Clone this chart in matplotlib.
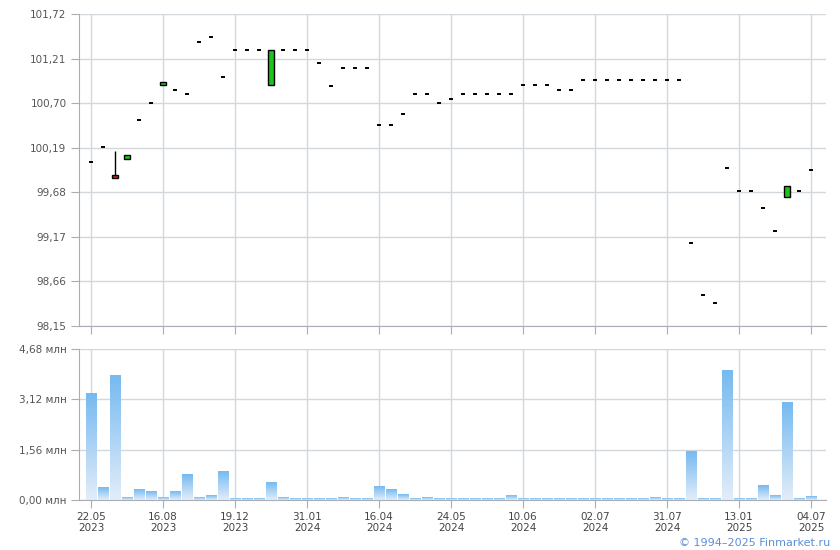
import numpy as np
import matplotlib
matplotlib.use('Agg')
import matplotlib.pyplot as plt
from matplotlib.patches import Rectangle
from matplotlib.colors import LinearSegmentedColormap

# подписи оси X (каждая 6-я свеча)
tick_idx = [0, 6, 12, 18, 24, 30, 36, 42, 48, 54, 60]
tick_labels = ['22.05\n2023', '16.08\n2023', '19.12\n2023', '31.01\n2024', '16.04\n2024',
               '24.05\n2024', '10.06\n2024', '02.07\n2024', '31.07\n2024', '13.01\n2025',
               '04.07\n2025']

close_ = [100.03, 100.20, 99.845, 100.11, 100.51, 100.70, 100.945, 100.85, 100.80, 101.40,
          101.46, 101.00, 101.31, 101.31, 101.31, 101.31, 101.31, 101.31, 101.31, 101.155,
          100.90, 101.105, 101.105, 101.105, 100.45, 100.45, 100.575, 100.805, 100.805, 100.70,
          100.745, 100.81, 100.81, 100.81, 100.81, 100.81, 100.91, 100.91, 100.91, 100.85,
          100.85, 100.96, 100.96, 100.96, 100.96, 100.96, 100.96, 100.96, 100.96, 100.96,
          99.10, 98.51, 98.41, 99.96, 99.70, 99.70, 99.50, 99.235, 99.75, 99.70,
          99.94]
# свечи с телом: индекс -> (open, high, low)
bodies = {2: (99.865, 100.15, 99.84),
          3: (100.06, 100.11, 100.06),
          6: (100.905, 100.945, 100.905),
          15: (100.905, 101.31, 100.905),
          58: (99.63, 99.75, 99.63)}

volume = [3.30, 0.38, 3.86, 0.07, 0.32, 0.26, 0.07, 0.26, 0.78, 0.07,
          0.13, 0.87, 0.04, 0.04, 0.04, 0.53, 0.07, 0.04, 0.04, 0.04,
          0.04, 0.07, 0.04, 0.04, 0.41, 0.31, 0.16, 0.04, 0.07, 0.04,
          0.04, 0.04, 0.04, 0.04, 0.04, 0.15, 0.04, 0.04, 0.04, 0.04,
          0.04, 0.04, 0.04, 0.04, 0.04, 0.04, 0.04, 0.09, 0.04, 0.04,
          1.51, 0.04, 0.04, 4.01, 0.04, 0.04, 0.46, 0.15, 3.02, 0.06,
          0.12]

price_ticks = [98.15, 98.66, 99.17, 99.68, 100.19, 100.70, 101.21, 101.72]
vol_ticks = [0.0, 1.56, 3.12, 4.68]

GRID = '#d3d8dc'
SPINE = '#a9adb5'


def oformit(ax):
    ax.set_xlim(-1, 61.25)
    ax.set_xticks(tick_idx)
    ax.grid(True, color=GRID, linewidth=1)
    ax.set_axisbelow(True)
    for s in ['top', 'right']:
        ax.spines[s].set_visible(False)
    for s in ['left', 'bottom']:
        ax.spines[s].set_color(SPINE)
    ax.tick_params(length=6, color=SPINE, labelsize=7.5, labelcolor='#555555', pad=3)


fig = plt.figure(figsize=(8.4, 5.5), dpi=100)
ax1 = fig.add_axes([79 / 840, 1 - 326 / 550, 747 / 840, 312 / 550])
ax2 = fig.add_axes([79 / 840, 1 - 500 / 550, 747 / 840, 151 / 550])

# цены
oformit(ax1)
ax1.set_ylim(98.15, 101.72)
ax1.set_yticks(price_ticks)
ax1.set_yticklabels([f'{v:.2f}'.replace('.', ',') for v in price_ticks])
ax1.set_xticklabels([])
for i, c in enumerate(close_):
    if i in bodies:
        o, h, l = bodies[i]
        ax1.vlines(i, l, h, color='black', linewidth=1, zorder=3)
        col = '#1cc41c' if c >= o else '#d42020'
        ax1.add_patch(Rectangle((i - 0.22, min(o, c)), 0.44, max(abs(c - o), 0.03),
                                facecolor=col, edgecolor='black', linewidth=1, zorder=4))
    else:
        ax1.hlines(c, i - 0.2, i + 0.2, color='black', linewidth=1.4, zorder=3)

# объемы
oformit(ax2)
ax2.set_ylim(0, 4.68)
ax2.set_yticks(vol_ticks)
ax2.set_yticklabels([f'{v:.2f}'.replace('.', ',') + ' млн' for v in vol_ticks])
ax2.set_xticklabels(tick_labels, color='#444444', linespacing=1.1)
cmap = LinearSegmentedColormap.from_list('vol', ['#e2edf9', '#76baf0'])
grad = np.linspace(0, 1, 100).reshape(-1, 1)
for i, v in enumerate(volume):
    ax2.imshow(grad, extent=[i - 0.42, i + 0.42, 0, v], origin='lower', aspect='auto',
               cmap=cmap, zorder=2)
ax2.set_xlim(-1, 61.25)
ax2.set_ylim(0, 4.68)

fig.text(830 / 840, 1 - 543 / 550, '© 1994–2025 Finmarket.ru', ha='right', va='center',
         fontsize=8, color='#5b8ed6')

plt.savefig('out.png', dpi=100)
